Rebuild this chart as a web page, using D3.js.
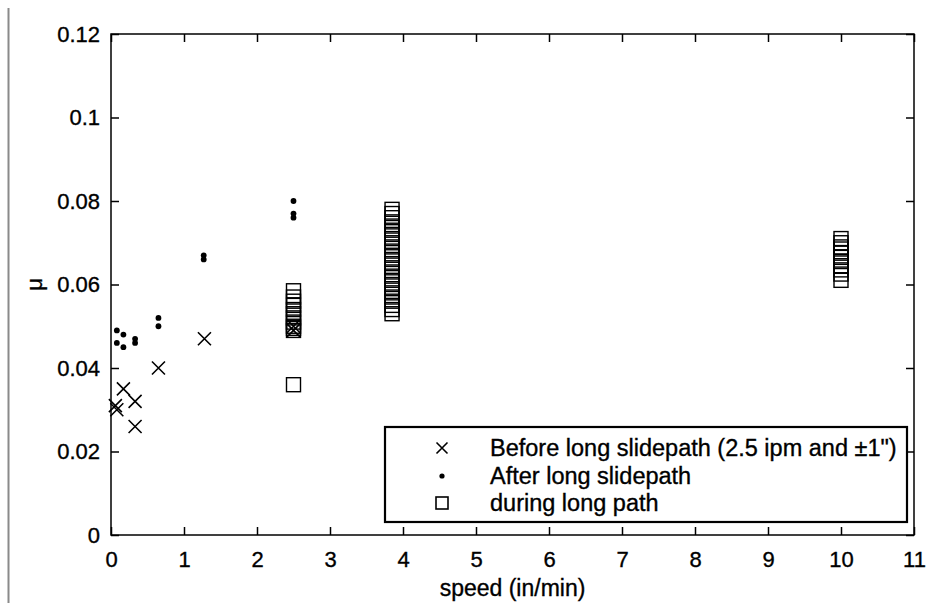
<!DOCTYPE html>
<html>
<head>
<meta charset="utf-8">
<script src="https://cdn.jsdelivr.net/npm/d3@7"></script>
<style>
  body { margin: 0; background: #fff; }
  text { font-family: "Liberation Sans", Arial, sans-serif; fill: #000; stroke: #000; stroke-width: 0.35px; }
</style>
</head>
<body>
<div id="chart"></div>
<script>
// data
const xTicks = [0, 1, 2, 3, 4, 5, 6, 7, 8, 9, 10, 11];
const yTicks = [0, 0.02, 0.04, 0.06, 0.08, 0.1, 0.12];

const beforeX = [0.08, 0.06, 0.17, 0.33, 0.33, 0.65, 1.28, 2.5, 2.5];
const beforeY = [0.030, 0.031, 0.035, 0.032, 0.026, 0.040, 0.047, 0.049, 0.050];

const afterX = [0.08, 0.08, 0.17, 0.17, 0.33, 0.33, 0.65, 0.65, 1.27, 1.27, 2.5, 2.5, 2.5];
const afterY = [0.049, 0.046, 0.048, 0.045, 0.047, 0.046, 0.052, 0.050, 0.067, 0.066, 0.080, 0.077, 0.076];

const duringX = [
  2.5, 2.5, 2.5, 2.5, 2.5, 2.5, 2.5, 2.5, 2.5, 2.5, 2.5, 2.5,
  3.85, 3.85, 3.85, 3.85, 3.85, 3.85, 3.85, 3.85, 3.85, 3.85, 3.85, 3.85, 3.85,
  3.85, 3.85, 3.85, 3.85, 3.85, 3.85, 3.85, 3.85, 3.85, 3.85, 3.85, 3.85, 3.85,
  10, 10, 10, 10, 10, 10, 10, 10, 10, 10, 10
];
const duringY = [
  0.036, 0.049, 0.0495, 0.050, 0.051, 0.052, 0.053, 0.054, 0.055, 0.056, 0.057, 0.0585,
  0.053, 0.054, 0.055, 0.056, 0.057, 0.058, 0.059, 0.060, 0.061, 0.062, 0.063, 0.064, 0.065,
  0.066, 0.067, 0.068, 0.069, 0.070, 0.071, 0.072, 0.073, 0.074, 0.075, 0.076, 0.077, 0.078,
  0.061, 0.0625, 0.0635, 0.0645, 0.0655, 0.0665, 0.0675, 0.0685, 0.069, 0.070, 0.071
];

const legendLabels = ['Before long slidepath (2.5 ipm and \u00b11")', 'After long slidepath', 'during long path'];

margin = { top: 34, right: 15, bottom: 68, left: 111 };
width = 933;
height = 603;

const svg = d3.select('#chart').append('svg')
  .attr('width', width)
  .attr('height', height);

// thin grey line down the left side of the figure
svg.append('line')
  .attr('x1', 8.5).attr('x2', 8.5)
  .attr('y1', 8).attr('y2', height)
  .attr('stroke', '#8a8a8a').attr('stroke-width', 2);

const x = d3.scaleLinear().domain([0, 11]).range([margin.left, width - margin.right - 4]);
const y = d3.scaleLinear().domain([0, 0.12]).range([height - margin.bottom, margin.top]);

// frame
svg.append('rect')
  .attr('x', x(0)).attr('y', y(0.12))
  .attr('width', x(11) - x(0)).attr('height', y(0) - y(0.12))
  .attr('fill', 'none').attr('stroke', '#000').attr('stroke-width', 1.5);

// axes, ticks pointing in
const fmtY = d => (d === 0 ? '0' : String(+d.toFixed(2)));
const xAxis = svg.append('g')
  .attr('transform', `translate(0,${y(0)})`)
  .call(d3.axisBottom(x).tickValues(xTicks).tickSize(-8).tickPadding(16).tickSizeOuter(0));
const yAxis = svg.append('g')
  .attr('transform', `translate(${x(0)},0)`)
  .call(d3.axisLeft(y).tickValues(yTicks).tickFormat(fmtY).tickSize(-8).tickPadding(11).tickSizeOuter(0));
svg.append('g')
  .attr('transform', `translate(0,${y(0.12)})`)
  .call(d3.axisTop(x).tickValues(xTicks).tickSize(-8).tickFormat('').tickSizeOuter(0));
svg.append('g')
  .attr('transform', `translate(${x(11)},0)`)
  .call(d3.axisRight(y).tickValues(yTicks).tickSize(-8).tickFormat('').tickSizeOuter(0));

svg.selectAll('.domain').remove();
svg.selectAll('.tick line').attr('stroke', '#000').attr('stroke-width', 1.5);
svg.selectAll('.tick text')
  .style('font-family', '"Liberation Sans", Arial, sans-serif')
  .style('font-size', '22px');
xAxis.selectAll('.tick text').attr('dy', '0.71em');

// axis titles
svg.append('text')
  .attr('x', (x(0) + x(11)) / 2).attr('y', 596)
  .attr('text-anchor', 'middle')
  .style('font-size', '23px')
  .text('speed (in/min)');
svg.append('text')
  .attr('transform', `translate(42,${(y(0) + y(0.12)) / 2}) rotate(-90)`)
  .attr('text-anchor', 'middle')
  .style('font-size', '22px')
  .text('\u03bc');

// markers
const xMark = (g, cx, cy, s) => g.append('path')
  .attr('d', `M${cx - s},${cy - s}L${cx + s},${cy + s}M${cx - s},${cy + s}L${cx + s},${cy - s}`)
  .attr('stroke', '#000').attr('stroke-width', 1.6).attr('fill', 'none');

const marks = svg.append('g');
duringX.forEach((d, i) => {
  marks.append('rect')
    .attr('x', x(d) - 7).attr('y', y(duringY[i]) - 7)
    .attr('width', 14).attr('height', 14)
    .attr('fill', 'none').attr('stroke', '#000').attr('stroke-width', 1.4);
});
afterX.forEach((d, i) => {
  marks.append('circle')
    .attr('cx', x(d)).attr('cy', y(afterY[i])).attr('r', 2.9)
    .attr('fill', '#000');
});
beforeX.forEach((d, i) => xMark(marks, x(d), y(beforeY[i]), 6.5));

// legend
const lg = svg.append('g');
lg.append('rect')
  .attr('x', 385).attr('y', 427).attr('width', 522).attr('height', 95)
  .attr('fill', '#fff').attr('stroke', '#000').attr('stroke-width', 2.2);
const rowY = [448, 476, 503];
legendLabels.forEach((t, i) => {
  lg.append('text')
    .attr('x', 490).attr('y', rowY[i]).attr('dy', '0.35em')
    .style('font-size', '23.5px')
    .text(t);
});
xMark(lg, 442, rowY[0], 5.5);
lg.append('circle').attr('cx', 442).attr('cy', rowY[1]).attr('r', 2.6).attr('fill', '#000');
lg.append('rect')
  .attr('x', 436).attr('y', rowY[2] - 6).attr('width', 12).attr('height', 12)
  .attr('fill', 'none').attr('stroke', '#000').attr('stroke-width', 1.6);
</script>
</body>
</html>
